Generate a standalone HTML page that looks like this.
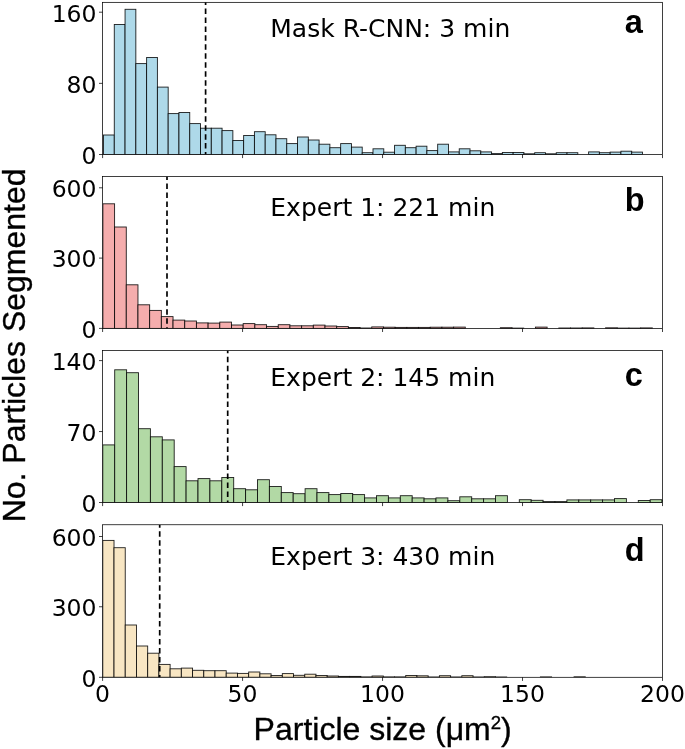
<!DOCTYPE html>
<html lang="en">
<head>
<meta charset="utf-8">
<title>Particle size distributions</title>
<style>
html,body{margin:0;padding:0;background:#fff;}
body{width:685px;height:749px;overflow:hidden;}
svg{display:block;}
.tk{font-family:"DejaVu Sans","Liberation Sans",sans-serif;font-size:23.5px;fill:#000;}
.tt{font-family:"DejaVu Sans","Liberation Sans",sans-serif;font-size:25px;fill:#000;}
.lb{font-family:"Liberation Sans",Arial,Helvetica,sans-serif;font-size:32px;fill:#000;stroke:#000;stroke-width:0.35;}
.lt{font-family:"Liberation Sans",Arial,Helvetica,sans-serif;font-size:32.5px;font-weight:bold;fill:#000;}
.bar{stroke:#000;stroke-width:0.9;stroke-opacity:0.88;}
.ax{fill:none;stroke:#000;stroke-width:0.75;}
.tick{stroke:#000;stroke-width:0.75;}
.dash{stroke:#000;stroke-width:1.7;stroke-dasharray:5.5 3.48;fill:none;}
</style>
</head>
<body>
<svg width="685" height="749" viewBox="0 0 685 749">
<rect x="0" y="0" width="685" height="749" fill="#fff"/>

<g>
<clipPath id="cp0"><rect x="102.60" y="2.35" width="559.90" height="152.15"/></clipPath>
<g clip-path="url(#cp0)" fill="#aed9e9">
<rect class="bar" x="103.50" y="135.00" width="10.78" height="19.50"/>
<rect class="bar" x="114.28" y="24.50" width="10.78" height="130.00"/>
<rect class="bar" x="125.06" y="9.30" width="10.78" height="145.20"/>
<rect class="bar" x="135.84" y="63.60" width="10.78" height="90.90"/>
<rect class="bar" x="146.62" y="57.50" width="10.78" height="97.00"/>
<rect class="bar" x="157.40" y="87.10" width="10.78" height="67.40"/>
<rect class="bar" x="168.18" y="113.60" width="10.78" height="40.90"/>
<rect class="bar" x="178.96" y="112.50" width="10.78" height="42.00"/>
<rect class="bar" x="189.74" y="123.60" width="10.78" height="30.90"/>
<rect class="bar" x="200.52" y="128.20" width="10.78" height="26.30"/>
<rect class="bar" x="211.30" y="128.20" width="10.78" height="26.30"/>
<rect class="bar" x="222.08" y="130.60" width="10.78" height="23.90"/>
<rect class="bar" x="232.86" y="140.50" width="10.78" height="14.00"/>
<rect class="bar" x="243.64" y="135.50" width="10.78" height="19.00"/>
<rect class="bar" x="254.42" y="131.70" width="10.78" height="22.80"/>
<rect class="bar" x="265.20" y="134.80" width="10.78" height="19.70"/>
<rect class="bar" x="275.98" y="138.70" width="10.78" height="15.80"/>
<rect class="bar" x="286.76" y="143.60" width="10.78" height="10.90"/>
<rect class="bar" x="297.54" y="137.00" width="10.78" height="17.50"/>
<rect class="bar" x="308.32" y="140.00" width="10.78" height="14.50"/>
<rect class="bar" x="319.10" y="144.20" width="10.78" height="10.30"/>
<rect class="bar" x="329.88" y="147.70" width="10.78" height="6.80"/>
<rect class="bar" x="340.66" y="143.60" width="10.78" height="10.90"/>
<rect class="bar" x="351.44" y="147.10" width="10.78" height="7.40"/>
<rect class="bar" x="362.22" y="152.70" width="10.78" height="1.80"/>
<rect class="bar" x="373.00" y="148.80" width="10.78" height="5.70"/>
<rect class="bar" x="383.78" y="152.20" width="10.78" height="2.30"/>
<rect class="bar" x="394.56" y="145.30" width="10.78" height="9.20"/>
<rect class="bar" x="405.34" y="147.70" width="10.78" height="6.80"/>
<rect class="bar" x="416.12" y="146.20" width="10.78" height="8.30"/>
<rect class="bar" x="426.90" y="150.60" width="10.78" height="3.90"/>
<rect class="bar" x="437.68" y="144.20" width="10.78" height="10.30"/>
<rect class="bar" x="448.46" y="151.90" width="10.78" height="2.60"/>
<rect class="bar" x="459.24" y="148.80" width="10.78" height="5.70"/>
<rect class="bar" x="470.02" y="150.80" width="10.78" height="3.70"/>
<rect class="bar" x="480.80" y="151.90" width="10.78" height="2.60"/>
<rect class="bar" x="491.58" y="153.60" width="10.78" height="0.90"/>
<rect class="bar" x="502.36" y="152.50" width="10.78" height="2.00"/>
<rect class="bar" x="513.14" y="152.50" width="10.78" height="2.00"/>
<rect class="bar" x="523.92" y="153.80" width="10.78" height="0.70"/>
<rect class="bar" x="534.70" y="152.70" width="10.78" height="1.80"/>
<rect class="bar" x="545.48" y="153.80" width="10.78" height="0.70"/>
<rect class="bar" x="556.26" y="152.70" width="10.78" height="1.80"/>
<rect class="bar" x="567.04" y="152.70" width="10.78" height="1.80"/>
<rect class="bar" x="588.60" y="151.90" width="10.78" height="2.60"/>
<rect class="bar" x="599.38" y="152.70" width="10.78" height="1.80"/>
<rect class="bar" x="610.16" y="152.10" width="10.78" height="2.40"/>
<rect class="bar" x="620.94" y="151.20" width="10.78" height="3.30"/>
<rect class="bar" x="631.72" y="152.10" width="10.78" height="2.40"/>
<line class="dash" stroke-dashoffset="3.1" x1="205.60" y1="154.50" x2="205.60" y2="2.35"/>
</g>
<rect class="ax" x="102.60" y="2.35" width="559.90" height="152.15"/>
<line class="tick" x1="99.00" y1="12.20" x2="102.60" y2="12.20"/>
<text class="tk" text-anchor="end" x="96.50" y="21.50">160</text>
<line class="tick" x1="99.00" y1="83.35" x2="102.60" y2="83.35"/>
<text class="tk" text-anchor="end" x="96.50" y="92.65">80</text>
<line class="tick" x1="99.00" y1="154.50" x2="102.60" y2="154.50"/>
<text class="tk" text-anchor="end" x="96.50" y="163.80">0</text>
<line class="tick" x1="102.60" y1="154.50" x2="102.60" y2="158.10"/>
<line class="tick" x1="242.57" y1="154.50" x2="242.57" y2="158.10"/>
<line class="tick" x1="382.55" y1="154.50" x2="382.55" y2="158.10"/>
<line class="tick" x1="522.52" y1="154.50" x2="522.52" y2="158.10"/>
<line class="tick" x1="662.50" y1="154.50" x2="662.50" y2="158.10"/>
<text class="tt" x="270.3" y="36.80">Mask R-CNN: 3 min</text>
<text class="lt" x="624.7" y="32.50">a</text>
</g>
<g>
<clipPath id="cp1"><rect x="102.60" y="176.40" width="559.90" height="152.00"/></clipPath>
<g clip-path="url(#cp1)" fill="#f5adad">
<rect class="bar" x="102.90" y="203.80" width="11.69" height="124.60"/>
<rect class="bar" x="114.59" y="227.00" width="11.69" height="101.40"/>
<rect class="bar" x="126.28" y="284.80" width="11.69" height="43.60"/>
<rect class="bar" x="137.97" y="304.80" width="11.69" height="23.60"/>
<rect class="bar" x="149.66" y="310.40" width="11.69" height="18.00"/>
<rect class="bar" x="161.35" y="316.60" width="11.69" height="11.80"/>
<rect class="bar" x="173.04" y="320.10" width="11.69" height="8.30"/>
<rect class="bar" x="184.73" y="321.00" width="11.69" height="7.40"/>
<rect class="bar" x="196.42" y="322.90" width="11.69" height="5.50"/>
<rect class="bar" x="208.11" y="323.10" width="11.69" height="5.30"/>
<rect class="bar" x="219.80" y="322.10" width="11.69" height="6.30"/>
<rect class="bar" x="231.49" y="325.00" width="11.69" height="3.40"/>
<rect class="bar" x="243.18" y="323.60" width="11.69" height="4.80"/>
<rect class="bar" x="254.87" y="324.70" width="11.69" height="3.70"/>
<rect class="bar" x="266.56" y="326.40" width="11.69" height="2.00"/>
<rect class="bar" x="278.25" y="324.70" width="11.69" height="3.70"/>
<rect class="bar" x="289.94" y="325.80" width="11.69" height="2.60"/>
<rect class="bar" x="301.63" y="325.80" width="11.69" height="2.60"/>
<rect class="bar" x="313.32" y="325.10" width="11.69" height="3.30"/>
<rect class="bar" x="325.01" y="326.00" width="11.69" height="2.40"/>
<rect class="bar" x="336.70" y="326.60" width="11.69" height="1.80"/>
<rect class="bar" x="348.39" y="327.50" width="11.69" height="0.90"/>
<rect class="bar" x="360.08" y="328.00" width="11.69" height="0.40"/>
<rect class="bar" x="371.77" y="326.90" width="11.69" height="1.50"/>
<rect class="bar" x="383.46" y="327.20" width="11.69" height="1.20"/>
<rect class="bar" x="395.15" y="327.40" width="11.69" height="1.00"/>
<rect class="bar" x="406.84" y="327.40" width="11.69" height="1.00"/>
<rect class="bar" x="418.53" y="327.40" width="11.69" height="1.00"/>
<rect class="bar" x="430.22" y="327.20" width="11.69" height="1.20"/>
<rect class="bar" x="441.91" y="327.20" width="11.69" height="1.20"/>
<rect class="bar" x="453.60" y="327.10" width="11.69" height="1.30"/>
<rect class="bar" x="500.36" y="327.70" width="11.69" height="0.70"/>
<rect class="bar" x="512.05" y="328.10" width="11.69" height="0.30"/>
<rect class="bar" x="535.43" y="327.10" width="11.69" height="1.30"/>
<rect class="bar" x="558.81" y="328.00" width="11.69" height="0.40"/>
<rect class="bar" x="570.50" y="328.00" width="11.69" height="0.40"/>
<rect class="bar" x="582.19" y="327.90" width="11.69" height="0.50"/>
<rect class="bar" x="605.57" y="327.80" width="11.69" height="0.60"/>
<rect class="bar" x="617.26" y="328.10" width="11.69" height="0.30"/>
<rect class="bar" x="628.95" y="328.10" width="11.69" height="0.30"/>
<rect class="bar" x="640.64" y="327.90" width="11.69" height="0.50"/>
<line class="dash" stroke-dashoffset="4.3" x1="167.00" y1="328.40" x2="167.00" y2="176.40"/>
</g>
<rect class="ax" x="102.60" y="176.40" width="559.90" height="152.00"/>
<line class="tick" x1="99.00" y1="187.80" x2="102.60" y2="187.80"/>
<text class="tk" text-anchor="end" x="96.50" y="197.10">600</text>
<line class="tick" x1="99.00" y1="258.10" x2="102.60" y2="258.10"/>
<text class="tk" text-anchor="end" x="96.50" y="267.40">300</text>
<line class="tick" x1="99.00" y1="328.40" x2="102.60" y2="328.40"/>
<text class="tk" text-anchor="end" x="96.50" y="337.70">0</text>
<line class="tick" x1="102.60" y1="328.40" x2="102.60" y2="332.00"/>
<line class="tick" x1="242.57" y1="328.40" x2="242.57" y2="332.00"/>
<line class="tick" x1="382.55" y1="328.40" x2="382.55" y2="332.00"/>
<line class="tick" x1="522.52" y1="328.40" x2="522.52" y2="332.00"/>
<line class="tick" x1="662.50" y1="328.40" x2="662.50" y2="332.00"/>
<text class="tt" x="270.3" y="216.00">Expert 1: 221 min</text>
<text class="lt" x="624.7" y="210.50">b</text>
</g>
<g>
<clipPath id="cp2"><rect x="102.60" y="350.50" width="559.90" height="152.00"/></clipPath>
<g clip-path="url(#cp2)" fill="#b2d9a5">
<rect class="bar" x="102.80" y="444.90" width="11.90" height="57.60"/>
<rect class="bar" x="114.70" y="369.80" width="11.90" height="132.70"/>
<rect class="bar" x="126.60" y="372.70" width="11.90" height="129.80"/>
<rect class="bar" x="138.50" y="428.70" width="11.90" height="73.80"/>
<rect class="bar" x="150.40" y="436.80" width="11.90" height="65.70"/>
<rect class="bar" x="162.30" y="439.90" width="11.90" height="62.60"/>
<rect class="bar" x="174.20" y="466.60" width="11.90" height="35.90"/>
<rect class="bar" x="186.10" y="480.80" width="11.90" height="21.70"/>
<rect class="bar" x="198.00" y="478.60" width="11.90" height="23.90"/>
<rect class="bar" x="209.90" y="480.80" width="11.90" height="21.70"/>
<rect class="bar" x="221.80" y="477.50" width="11.90" height="25.00"/>
<rect class="bar" x="233.70" y="488.70" width="11.90" height="13.80"/>
<rect class="bar" x="245.60" y="489.80" width="11.90" height="12.70"/>
<rect class="bar" x="257.50" y="479.70" width="11.90" height="22.80"/>
<rect class="bar" x="269.40" y="486.50" width="11.90" height="16.00"/>
<rect class="bar" x="281.30" y="492.60" width="11.90" height="9.90"/>
<rect class="bar" x="293.20" y="493.70" width="11.90" height="8.80"/>
<rect class="bar" x="305.10" y="488.70" width="11.90" height="13.80"/>
<rect class="bar" x="317.00" y="492.60" width="11.90" height="9.90"/>
<rect class="bar" x="328.90" y="494.60" width="11.90" height="7.90"/>
<rect class="bar" x="340.80" y="493.50" width="11.90" height="9.00"/>
<rect class="bar" x="352.70" y="494.60" width="11.90" height="7.90"/>
<rect class="bar" x="364.60" y="497.90" width="11.90" height="4.60"/>
<rect class="bar" x="376.50" y="495.70" width="11.90" height="6.80"/>
<rect class="bar" x="388.40" y="497.90" width="11.90" height="4.60"/>
<rect class="bar" x="400.30" y="495.70" width="11.90" height="6.80"/>
<rect class="bar" x="412.20" y="497.90" width="11.90" height="4.60"/>
<rect class="bar" x="424.10" y="498.80" width="11.90" height="3.70"/>
<rect class="bar" x="436.00" y="497.90" width="11.90" height="4.60"/>
<rect class="bar" x="447.90" y="500.70" width="11.90" height="1.80"/>
<rect class="bar" x="459.80" y="496.80" width="11.90" height="5.70"/>
<rect class="bar" x="471.70" y="498.80" width="11.90" height="3.70"/>
<rect class="bar" x="483.60" y="498.80" width="11.90" height="3.70"/>
<rect class="bar" x="495.50" y="495.70" width="11.90" height="6.80"/>
<rect class="bar" x="519.30" y="499.70" width="11.90" height="2.80"/>
<rect class="bar" x="531.20" y="500.30" width="11.90" height="2.20"/>
<rect class="bar" x="543.10" y="501.60" width="11.90" height="0.90"/>
<rect class="bar" x="555.00" y="501.60" width="11.90" height="0.90"/>
<rect class="bar" x="566.90" y="499.90" width="11.90" height="2.60"/>
<rect class="bar" x="578.80" y="499.90" width="11.90" height="2.60"/>
<rect class="bar" x="590.70" y="499.90" width="11.90" height="2.60"/>
<rect class="bar" x="602.60" y="499.90" width="11.90" height="2.60"/>
<rect class="bar" x="614.50" y="498.60" width="11.90" height="3.90"/>
<rect class="bar" x="638.30" y="500.50" width="11.90" height="2.00"/>
<rect class="bar" x="650.20" y="499.70" width="11.90" height="2.80"/>
<rect class="bar" x="662.10" y="500.50" width="11.90" height="2.00"/>
<line class="dash" stroke-dashoffset="3.4" x1="227.70" y1="502.50" x2="227.70" y2="350.50"/>
</g>
<rect class="ax" x="102.60" y="350.50" width="559.90" height="152.00"/>
<line class="tick" x1="99.00" y1="360.60" x2="102.60" y2="360.60"/>
<text class="tk" text-anchor="end" x="96.50" y="369.90">140</text>
<line class="tick" x1="99.00" y1="431.55" x2="102.60" y2="431.55"/>
<text class="tk" text-anchor="end" x="96.50" y="440.85">70</text>
<line class="tick" x1="99.00" y1="502.50" x2="102.60" y2="502.50"/>
<text class="tk" text-anchor="end" x="96.50" y="511.80">0</text>
<line class="tick" x1="102.60" y1="502.50" x2="102.60" y2="506.10"/>
<line class="tick" x1="242.57" y1="502.50" x2="242.57" y2="506.10"/>
<line class="tick" x1="382.55" y1="502.50" x2="382.55" y2="506.10"/>
<line class="tick" x1="522.52" y1="502.50" x2="522.52" y2="506.10"/>
<line class="tick" x1="662.50" y1="502.50" x2="662.50" y2="506.10"/>
<text class="tt" x="270.3" y="386.20">Expert 2: 145 min</text>
<text class="lt" x="624.7" y="385.90">c</text>
</g>
<g>
<clipPath id="cp3"><rect x="102.60" y="524.75" width="559.90" height="152.55"/></clipPath>
<g clip-path="url(#cp3)" fill="#f8e6c3">
<rect class="bar" x="102.80" y="540.40" width="11.22" height="136.90"/>
<rect class="bar" x="114.02" y="547.70" width="11.22" height="129.60"/>
<rect class="bar" x="125.24" y="625.00" width="11.22" height="52.30"/>
<rect class="bar" x="136.46" y="646.00" width="11.22" height="31.30"/>
<rect class="bar" x="147.68" y="653.20" width="11.22" height="24.10"/>
<rect class="bar" x="158.90" y="664.40" width="11.22" height="12.90"/>
<rect class="bar" x="170.12" y="668.80" width="11.22" height="8.50"/>
<rect class="bar" x="181.34" y="668.10" width="11.22" height="9.20"/>
<rect class="bar" x="192.56" y="670.30" width="11.22" height="7.00"/>
<rect class="bar" x="203.78" y="670.70" width="11.22" height="6.60"/>
<rect class="bar" x="215.00" y="670.70" width="11.22" height="6.60"/>
<rect class="bar" x="226.22" y="673.10" width="11.22" height="4.20"/>
<rect class="bar" x="237.44" y="673.40" width="11.22" height="3.90"/>
<rect class="bar" x="248.66" y="672.00" width="11.22" height="5.30"/>
<rect class="bar" x="259.88" y="673.80" width="11.22" height="3.50"/>
<rect class="bar" x="271.10" y="675.50" width="11.22" height="1.80"/>
<rect class="bar" x="282.32" y="673.60" width="11.22" height="3.70"/>
<rect class="bar" x="293.54" y="675.30" width="11.22" height="2.00"/>
<rect class="bar" x="304.76" y="674.20" width="11.22" height="3.10"/>
<rect class="bar" x="315.98" y="675.50" width="11.22" height="1.80"/>
<rect class="bar" x="327.20" y="676.00" width="11.22" height="1.30"/>
<rect class="bar" x="338.42" y="676.40" width="11.22" height="0.90"/>
<rect class="bar" x="349.64" y="676.40" width="11.22" height="0.90"/>
<rect class="bar" x="360.86" y="676.90" width="11.22" height="0.40"/>
<rect class="bar" x="372.08" y="676.00" width="11.22" height="1.30"/>
<rect class="bar" x="383.30" y="676.90" width="11.22" height="0.40"/>
<rect class="bar" x="394.52" y="676.90" width="11.22" height="0.40"/>
<rect class="bar" x="405.74" y="675.50" width="11.22" height="1.80"/>
<rect class="bar" x="416.96" y="675.80" width="11.22" height="1.50"/>
<rect class="bar" x="428.18" y="677.00" width="11.22" height="0.30"/>
<rect class="bar" x="439.40" y="675.70" width="11.22" height="1.60"/>
<rect class="bar" x="450.62" y="677.00" width="11.22" height="0.30"/>
<rect class="bar" x="461.84" y="675.70" width="11.22" height="1.60"/>
<rect class="bar" x="473.06" y="677.00" width="11.22" height="0.30"/>
<rect class="bar" x="484.28" y="676.70" width="11.22" height="0.60"/>
<rect class="bar" x="495.50" y="677.00" width="11.22" height="0.30"/>
<rect class="bar" x="540.38" y="676.90" width="11.22" height="0.40"/>
<rect class="bar" x="574.04" y="676.80" width="11.22" height="0.50"/>
<line class="dash" stroke-dashoffset="3.2" x1="159.70" y1="677.30" x2="159.70" y2="524.75"/>
</g>
<rect class="ax" x="102.60" y="524.75" width="559.90" height="152.55"/>
<line class="tick" x1="99.00" y1="536.50" x2="102.60" y2="536.50"/>
<text class="tk" text-anchor="end" x="96.50" y="545.80">600</text>
<line class="tick" x1="99.00" y1="606.75" x2="102.60" y2="606.75"/>
<text class="tk" text-anchor="end" x="96.50" y="616.05">300</text>
<line class="tick" x1="99.00" y1="677.30" x2="102.60" y2="677.30"/>
<text class="tk" text-anchor="end" x="96.50" y="686.60">0</text>
<line class="tick" x1="102.60" y1="677.30" x2="102.60" y2="680.90"/>
<line class="tick" x1="242.57" y1="677.30" x2="242.57" y2="680.90"/>
<line class="tick" x1="382.55" y1="677.30" x2="382.55" y2="680.90"/>
<line class="tick" x1="522.52" y1="677.30" x2="522.52" y2="680.90"/>
<line class="tick" x1="662.50" y1="677.30" x2="662.50" y2="680.90"/>
<text class="tt" x="270.3" y="564.50">Expert 3: 430 min</text>
<text class="lt" x="624.7" y="561.40">d</text>
</g>
<text class="tk" text-anchor="middle" x="102.60" y="701.6">0</text>
<text class="tk" text-anchor="middle" x="242.57" y="701.6">50</text>
<text class="tk" text-anchor="middle" x="382.55" y="701.6">100</text>
<text class="tk" text-anchor="middle" x="522.52" y="701.6">150</text>
<text class="tk" text-anchor="middle" x="662.50" y="701.6">200</text>
<text class="lb" x="253.6" y="740.0">Particle size (μm<tspan font-size="18.6" dy="-10.8">2</tspan><tspan dy="10.8">)</tspan></text>
<text class="lb" text-anchor="middle" transform="translate(25.35,345.4) rotate(-90)">No. Particles Segmented</text>
</svg>
</body>
</html>
